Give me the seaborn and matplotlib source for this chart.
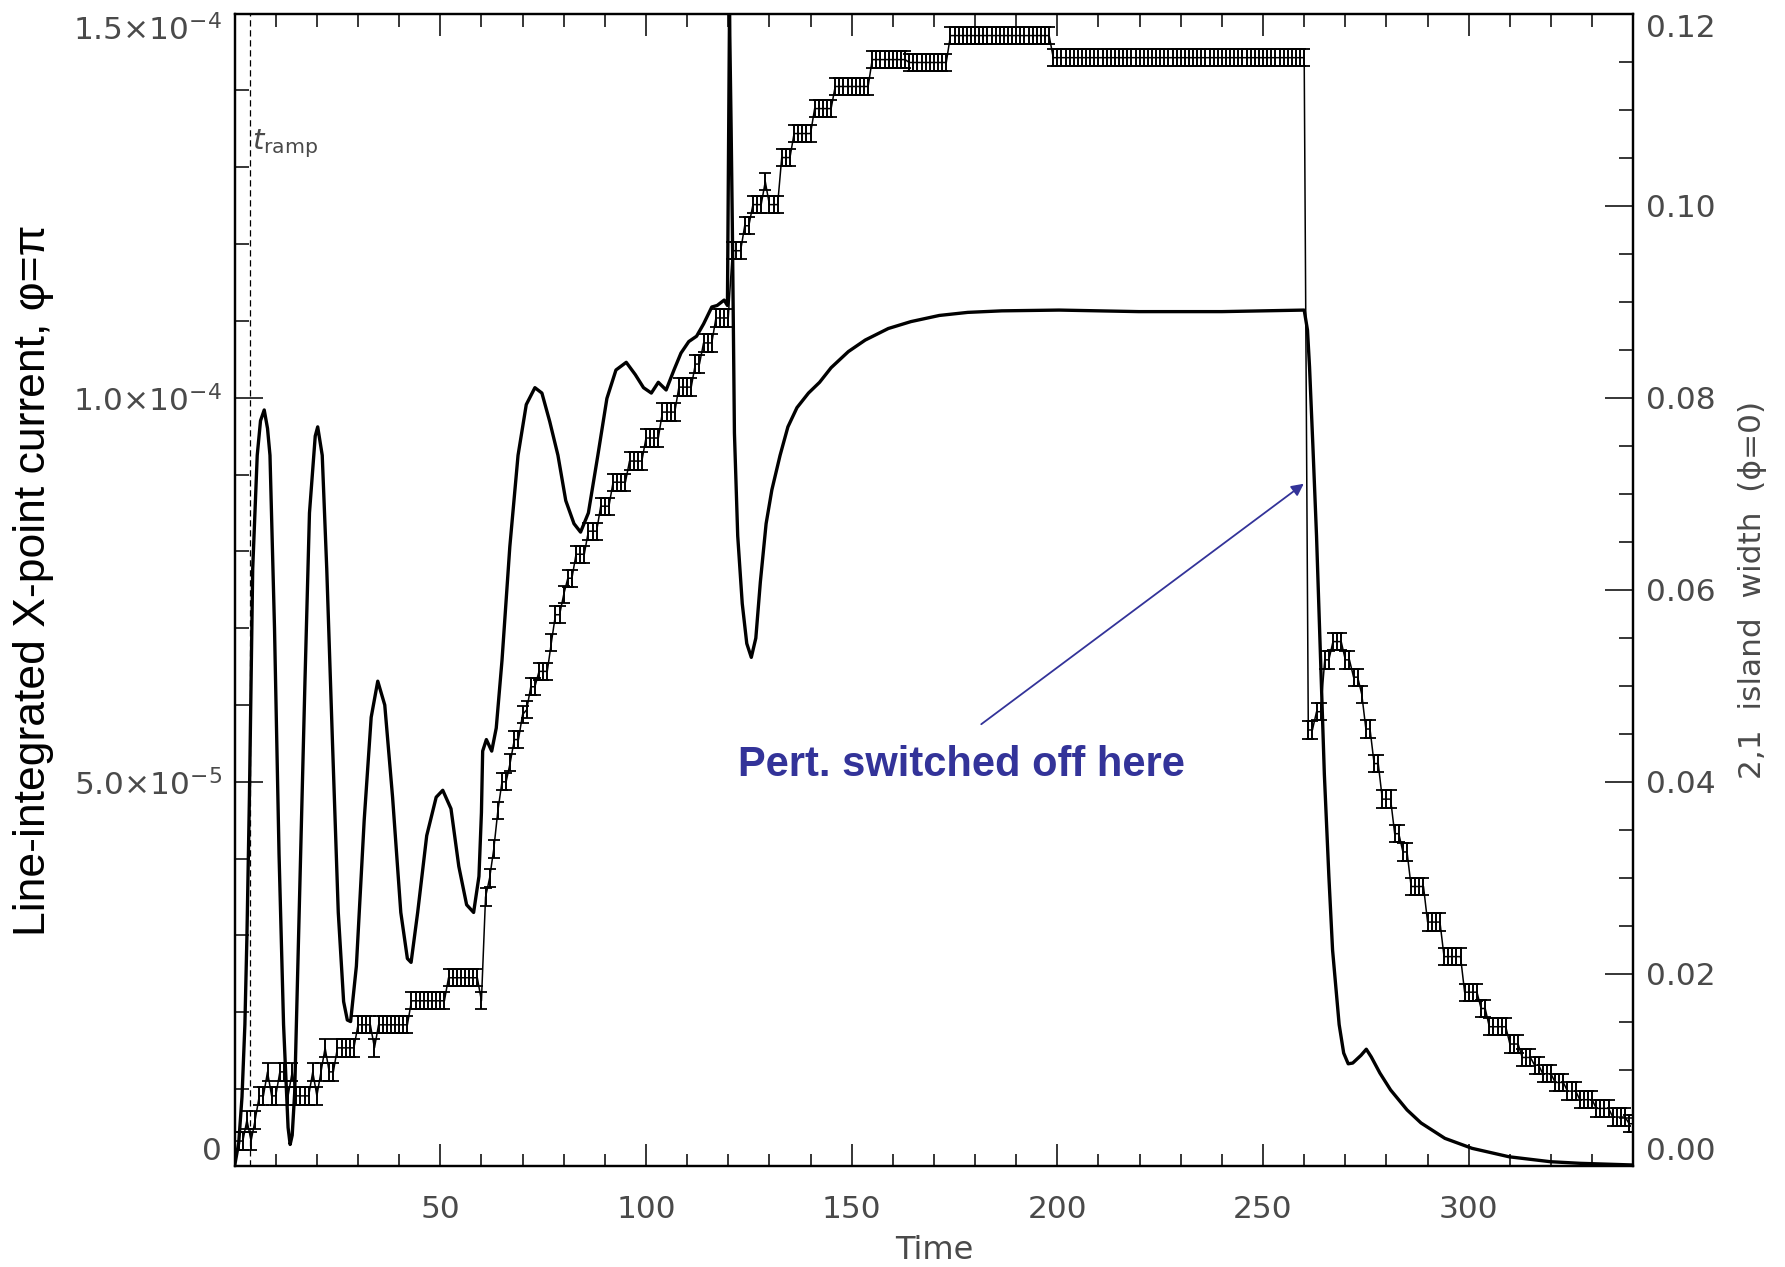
import numpy as np
import matplotlib
matplotlib.use("Agg")
import matplotlib.pyplot as plt
from matplotlib.ticker import FixedLocator
import seaborn as sns

# ---- line-integrated X-point current (left axis), units of 1e-5 ----
current_time = [
    0.0, 1.0, 1.8, 2.5, 3.0, 3.6, 4.4, 5.5, 6.3, 7.2, 8.0, 8.6, 9.7, 10.8, 11.9,
    13.0, 13.5, 14.0, 14.6, 15.7, 17.1, 18.2, 19.6, 20.2, 21.3, 22.4, 23.8, 25.2,
    26.5, 27.4, 28.2, 29.6, 31.5, 33.2, 34.8, 36.5, 38.4, 40.4, 42.0, 42.9, 44.5,
    46.7, 49.0, 50.6, 52.6, 54.5, 56.4, 58.1, 59.4, 60.0, 60.3, 61.2, 62.5, 63.6,
    65.0, 66.9, 68.9, 70.9, 73.0, 74.7, 76.6, 78.6, 80.5, 82.5, 84.1, 86.0, 88.3,
    90.5, 92.7, 95.2, 97.4, 99.4, 101.3, 103.0, 104.9, 106.8, 108.5, 110.4, 112.3,
    114.0, 116.0, 117.3, 119.0, 119.8, 120.3, 120.7, 121.0, 121.5, 122.3, 123.4,
    124.5, 125.6, 126.7, 127.8, 129.2, 130.6, 132.6, 134.5, 136.7, 139.5, 142.2,
    145.0, 149.2, 153.3, 158.9, 164.4, 171.3, 178.2, 186.5, 200.4, 219.8, 240.0,
    260.0, 260.8, 261.3, 262.1, 263.0, 263.8, 264.9, 266.0, 266.9, 268.5, 269.6,
    270.7, 271.8, 273.8, 275.1, 276.3, 278.4, 281.0, 285.0, 288.4, 294.2, 300.8,
    309.8, 319.8, 327.0, 340.0,
]
current_1e5 = [
    0.0, 0.3, 0.9, 1.84, 3.0, 4.8, 7.77, 9.25, 9.7, 9.84, 9.6, 9.25, 7.0, 4.06, 1.84,
    0.5, 0.28, 0.4, 0.95, 3.3, 6.3, 8.5, 9.5, 9.62, 9.25, 7.77, 5.5, 3.3,
    2.14, 1.9, 1.88, 2.6, 4.5, 5.84, 6.31, 6.0, 4.8, 3.3, 2.7, 2.65, 3.3,
    4.3, 4.8, 4.89, 4.65, 3.9, 3.4, 3.3, 3.77, 4.6, 5.4, 5.55, 5.4, 5.7,
    6.58, 8.06, 9.25, 9.91, 10.13, 10.06, 9.69, 9.25, 8.66, 8.36, 8.25, 8.5, 9.25,
    9.99, 10.36, 10.46, 10.3, 10.13, 10.06, 10.2, 10.1, 10.36, 10.58, 10.73, 10.8,
    10.96, 11.18, 11.2, 11.27, 11.2, 15.0, 13.5, 12.2, 9.54, 8.2, 7.32,
    6.8, 6.62, 6.87, 7.6, 8.36, 8.8, 9.25, 9.62, 9.87, 10.06, 10.2,
    10.39, 10.6, 10.75, 10.9, 10.99, 11.07, 11.11, 11.13, 11.14, 11.12, 11.12,
    11.14, 10.88, 10.4, 9.39, 8.2, 6.88, 5.1, 3.77, 2.81, 1.84, 1.47,
    1.33, 1.34, 1.44, 1.52, 1.42, 1.21, 0.99, 0.73, 0.56, 0.36, 0.23,
    0.12, 0.056, 0.035, 0.013,
]

# ---- 2,1 island width at phi=0 (right axis), one sample per time unit ----
width_time = list(range(0, 341))
island_width = [
    # 0-9
    0.0026, 0.0026, 0.0026, 0.0048, 0.0026, 0.0048, 0.0073, 0.0073, 0.0098, 0.0073,
    # 10-19
    0.0073, 0.0098, 0.0098, 0.0073, 0.0098, 0.0073, 0.0073, 0.0073, 0.0073, 0.0098,
    # 20-29
    0.0073, 0.0098, 0.0123, 0.0098, 0.0098, 0.0123, 0.0123, 0.0123, 0.0123, 0.0123,
    # 30-39
    0.0147, 0.0147, 0.0147, 0.0147, 0.0123, 0.0147, 0.0147, 0.0147, 0.0147, 0.0147,
    # 40-49
    0.0147, 0.0147, 0.0147, 0.0172, 0.0172, 0.0172, 0.0172, 0.0172, 0.0172, 0.0172,
    # 50-59
    0.0172, 0.0172, 0.0196, 0.0196, 0.0196, 0.0196, 0.0196, 0.0196, 0.0196, 0.0196,
    # 60-69
    0.0172, 0.0280, 0.0300, 0.0330, 0.0370, 0.0400, 0.0400, 0.0420, 0.0444, 0.0444,
    # 70-79
    0.0470, 0.0475, 0.0499, 0.0499, 0.0515, 0.0515, 0.0515, 0.0545, 0.0574, 0.0574,
    # 80-89
    0.0595, 0.0612, 0.0612, 0.0637, 0.0637, 0.0637, 0.0661, 0.0661, 0.0661, 0.0687,
    # 90-99
    0.0687, 0.0687, 0.0712, 0.0712, 0.0712, 0.0712, 0.0734, 0.0734, 0.0734, 0.0734,
    # 100-109
    0.0758, 0.0758, 0.0758, 0.0758, 0.0785, 0.0785, 0.0785, 0.0785, 0.0811, 0.0811,
    # 110-119
    0.0811, 0.0811, 0.0835, 0.0835, 0.0857, 0.0857, 0.0857, 0.0883, 0.0883, 0.0883,
    # 120-129
    0.0883, 0.0953, 0.0953, 0.0953, 0.0979, 0.0979, 0.1001, 0.1001, 0.1001, 0.1025,
    # 130-139
    0.1001, 0.1001, 0.1001, 0.1050, 0.1050, 0.1050, 0.1075, 0.1075, 0.1075, 0.1075,
    # 140-149
    0.1075, 0.1101, 0.1101, 0.1101, 0.1101, 0.1101, 0.1124, 0.1124, 0.1124, 0.1124,
    # 150-159
    0.1124, 0.1124, 0.1124, 0.1124, 0.1124, 0.1152, 0.1152, 0.1152, 0.1152, 0.1152,
    # 160-169
    0.1152, 0.1152, 0.1152, 0.1152, 0.1149, 0.1149, 0.1149, 0.1149, 0.1149, 0.1149,
    # 170-179
    0.1149, 0.1149, 0.1149, 0.1149, 0.1177, 0.1177, 0.1177, 0.1177, 0.1177, 0.1177,
    # 180-189
    0.1177, 0.1177, 0.1177, 0.1177, 0.1177, 0.1177, 0.1177, 0.1177, 0.1177, 0.1177,
    # 190-199
    0.1177, 0.1177, 0.1177, 0.1177, 0.1177, 0.1177, 0.1177, 0.1177, 0.1177, 0.1154,
    # 200-209
    0.1154, 0.1154, 0.1154, 0.1154, 0.1154, 0.1154, 0.1154, 0.1154, 0.1154, 0.1154,
    # 210-219
    0.1154, 0.1154, 0.1154, 0.1154, 0.1154, 0.1154, 0.1154, 0.1154, 0.1154, 0.1154,
    # 220-229
    0.1154, 0.1154, 0.1154, 0.1154, 0.1154, 0.1154, 0.1154, 0.1154, 0.1154, 0.1154,
    # 230-239
    0.1154, 0.1154, 0.1154, 0.1154, 0.1154, 0.1154, 0.1154, 0.1154, 0.1154, 0.1154,
    # 240-249
    0.1154, 0.1154, 0.1154, 0.1154, 0.1154, 0.1154, 0.1154, 0.1154, 0.1154, 0.1154,
    # 250-259
    0.1154, 0.1154, 0.1154, 0.1154, 0.1154, 0.1154, 0.1154, 0.1154, 0.1154, 0.1154,
    # 260-269
    0.1154, 0.0454, 0.0454, 0.0473, 0.0473, 0.0527, 0.0527, 0.0546, 0.0546, 0.0546,
    # 270-279
    0.0527, 0.0527, 0.0509, 0.0509, 0.0491, 0.0455, 0.0455, 0.0419, 0.0419, 0.0382,
    # 280-289
    0.0382, 0.0382, 0.0346, 0.0346, 0.0327, 0.0327, 0.0291, 0.0291, 0.0291, 0.0291,
    # 290-299
    0.0254, 0.0254, 0.0254, 0.0254, 0.0218, 0.0218, 0.0218, 0.0218, 0.0218, 0.0181,
    # 300-309
    0.0181, 0.0181, 0.0181, 0.0164, 0.0164, 0.0145, 0.0145, 0.0145, 0.0145, 0.0145,
    # 310-319
    0.0127, 0.0127, 0.0127, 0.0113, 0.0113, 0.0113, 0.0105, 0.0105, 0.0096, 0.0096,
    # 320-329
    0.0096, 0.0087, 0.0087, 0.0087, 0.0078, 0.0078, 0.0078, 0.0069, 0.0069, 0.0069,
    # 330-339
    0.0069, 0.0060, 0.0060, 0.0060, 0.0060, 0.0051, 0.0051, 0.0051, 0.0051, 0.0044,
    # 340
    0.0044,
]
width_error = 0.0009

x_major = [50, 100, 150, 200, 250, 300]
left_ticks = [0.0, 5.0e-5, 1.0e-4, 1.5e-4]
left_labels = ["0", r"$5.0{\times}10^{-5}$", r"$1.0{\times}10^{-4}$",
               r"$1.5{\times}10^{-4}$"]
right_ticks = [0.0, 0.02, 0.04, 0.06, 0.08, 0.10, 0.12]
right_labels = ["0.00", "0.02", "0.04", "0.06", "0.08", "0.10", "0.12"]
t_ramp = 3.75

sns.set_style("ticks")
plt.rcParams["font.family"] = ["DejaVu Sans"]
plt.rcParams["mathtext.fontset"] = "dejavusans"

INK = "#4a4a4a"
BLUE = "#333399"

fig = plt.figure(figsize=(17.85, 12.67), dpi=100)
ax = fig.add_axes([0.13143, 0.07972, 0.78358, 0.90962])
ax2 = ax.twinx()

# island width: thin polyline plus error bars at every sample
wt = np.array(width_time, dtype=float)
wv = np.array(island_width)
sns.lineplot(x=wt, y=wv, ax=ax2, color="black", linewidth=1.1,
             estimator=None, sort=False, legend=False)
ax2.errorbar(wt, wv, yerr=width_error, fmt="none", ecolor="black",
             elinewidth=1.4, capsize=4.0, capthick=1.3)

# X-point current: heavy line
ct = np.array(current_time)
cv = np.array(current_1e5) * 1e-5
sns.lineplot(x=ct, y=cv, ax=ax, color="black", linewidth=2.4,
             estimator=None, sort=False, legend=False)

# ramp time marker
ax.axvline(t_ramp, color="black", linewidth=0.9, linestyle=(0, (5, 3)))
ax.text(t_ramp + 0.4, 1.352e-4, r"$t_{\rm ramp}$", color=INK, fontsize=21,
        ha="left", va="top")

ax.set_xlim(0, 340)
ax.set_ylim(0, 1.5e-4)
ax2.set_ylim(0, 0.12)

# axes frame and ticks
for a in (ax, ax2):
    for s in a.spines.values():
        s.set_linewidth(1.6)
        s.set_color("black")

ax.set_xticks(x_major)
ax.set_xticklabels([str(v) for v in x_major])
ax.xaxis.set_minor_locator(FixedLocator([v for v in range(10, 340, 10) if v % 50]))
ax.set_yticks(left_ticks)
ax.set_yticklabels(left_labels)
ax.yaxis.set_minor_locator(FixedLocator([k * 1e-5 for k in range(1, 15) if k % 5]))
ax2.set_yticks(right_ticks)
ax2.set_yticklabels(right_labels)
ax2.yaxis.set_minor_locator(FixedLocator([k * 0.005 for k in range(1, 24) if k % 4]))

ax.tick_params(axis="x", which="both", direction="in", top=True, bottom=True,
               labelsize=22.5, labelcolor=INK, pad=21, width=1.3)
ax.tick_params(axis="x", which="major", length=16)
ax.tick_params(axis="x", which="minor", length=9)
ax.tick_params(axis="y", which="both", direction="in", left=True, right=False,
               labelsize=22.5, labelcolor=INK, pad=9, width=1.3)
ax.tick_params(axis="y", which="major", length=20)
ax.tick_params(axis="y", which="minor", length=10)
ax2.tick_params(axis="y", which="both", direction="in", right=True, left=False,
                labelsize=22.5, labelcolor=INK, pad=9, width=1.3)
ax2.tick_params(axis="y", which="major", length=20)
ax2.tick_params(axis="y", which="minor", length=10)

for lab in ax.get_yticklabels():
    if lab.get_text() == "0":
        lab.set_va("bottom")
    elif "1.5" in lab.get_text():
        lab.set_va("top")
for lab in ax2.get_yticklabels():
    if lab.get_text() == "0.00":
        lab.set_va("bottom")
    elif lab.get_text() == "0.12":
        lab.set_va("top")

ax.set_xlabel("Time", fontsize=23, color=INK, labelpad=8)
ax.set_ylabel("")
ax2.set_ylabel("")

fig.text(0.019, 0.5418, "Line-integrated X-point current, \u03c6=\u03c0",
         rotation=90, ha="center", va="center", fontsize=32, color="black",
         family=["Liberation Sans", "DejaVu Sans"])
fig.text(0.982, 0.5343, "2,1  island  width  (\u03d5=0)", rotation=90,
         ha="center", va="center", fontsize=22.5, color=INK)

# annotation for the switch-off
ax.annotate("", xy=(259.9, 8.88e-5), xytext=(181.5, 5.75e-5),
            arrowprops=dict(arrowstyle="-|>", color=BLUE, lw=1.3,
                            mutation_scale=18, shrinkA=0, shrinkB=0))
ax.text(176.6, 5.22e-5, "Pert. switched off here", color=BLUE, fontsize=30,
        fontweight="bold", ha="center", va="center",
        family=["Liberation Sans", "DejaVu Sans"])

fig.savefig("out.png", dpi=100, facecolor="white")
